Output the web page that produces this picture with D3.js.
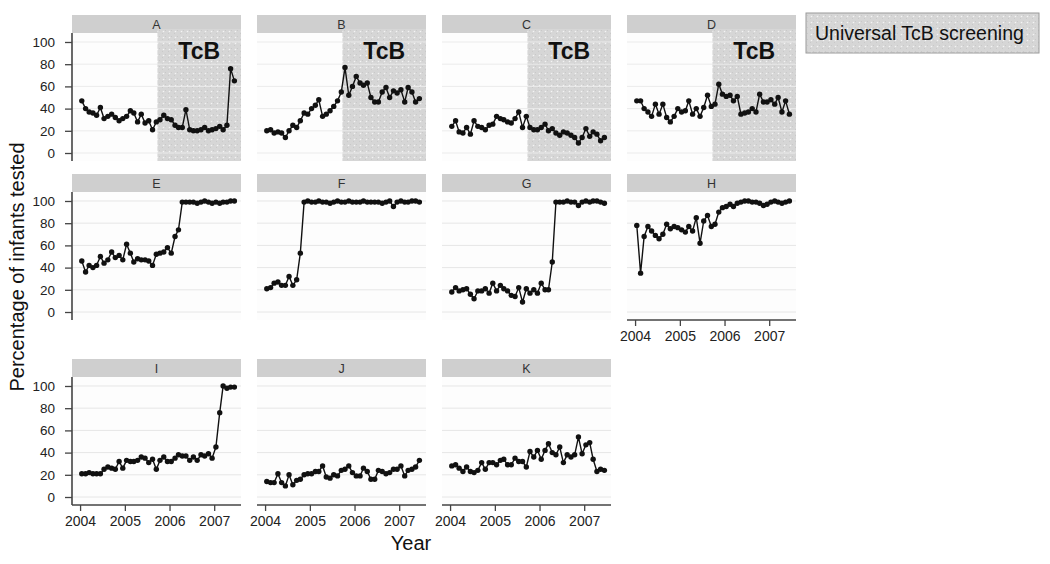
<!DOCTYPE html>
<html><head><meta charset="utf-8">
<script src="https://cdn.jsdelivr.net/npm/d3@7"></script>
<style>
body{margin:0;background:#fff;}
svg{display:block;font-family:"Liberation Sans",Arial,sans-serif;}
</style>
</head><body>
<svg id="chart" width="1050" height="564"></svg>
<script>
// ---------------- data ----------------
const months = ["2004-01","2004-02","2004-03","2004-04","2004-05","2004-06","2004-07","2004-08","2004-09","2004-10","2004-11","2004-12",
"2005-01","2005-02","2005-03","2005-04","2005-05","2005-06","2005-07","2005-08","2005-09","2005-10","2005-11","2005-12",
"2006-01","2006-02","2006-03","2006-04","2006-05","2006-06","2006-07","2006-08","2006-09","2006-10","2006-11","2006-12",
"2007-01","2007-02","2007-03","2007-04","2007-05","2007-06"];
const panelLabels = ["A","B","C","D","E","F","G","H","I","J","K"];
const seriesA = [47,40,37,36,34,41,31,33,35,32,29,31,33,38,36,28,35,27,29,21,28,30,34,31,30,25,23,23,39,21,20,20,21,23,20,21,22,24,21,25,76,65];
const seriesB = [20,21,18,19,18,14,20,25,23,29,36,35,40,43,48,33,35,38,42,47,55,77,52,60,69,63,61,63,50,46,46,55,59,50,56,54,57,46,59,55,46,49];
const seriesC = [24,29,19,18,23,17,29,24,23,21,25,26,33,31,30,28,27,31,37,23,33,23,21,21,23,26,20,22,18,16,19,18,16,14,9,14,22,15,19,17,11,14];
const seriesD = [47,47,40,37,33,44,35,44,32,28,33,40,37,38,47,35,40,33,41,52,42,44,62,53,51,52,47,51,35,36,37,40,37,53,46,46,48,44,50,37,47,35];
const seriesE = [46,36,42,40,42,50,44,47,54,49,51,47,61,53,45,48,47,47,46,42,52,53,54,58,53,68,74,99,99,99,99,98,99,100,99,98,99,98,99,99,100,100];
const seriesF = [21,22,26,27,24,24,32,24,29,53,99,100,99,99,100,99,99,98,99,100,99,99,100,99,99,99,100,99,99,99,99,98,99,100,95,99,100,99,99,100,100,99];
const seriesG = [18,22,19,20,21,16,12,19,19,21,17,26,19,24,21,19,15,14,22,9,21,17,20,17,26,20,20,45,99,99,99,100,99,99,96,99,100,99,100,100,99,98];
const seriesH = [78,35,68,77,73,69,66,70,79,75,77,76,74,72,77,73,85,62,82,87,77,79,90,94,95,97,95,98,99,100,100,99,99,98,96,97,99,100,99,98,99,100];
const seriesI = [21,21,22,21,21,21,25,27,26,25,32,26,33,32,32,33,36,35,31,34,25,33,36,32,32,35,38,37,37,33,36,33,38,37,39,35,45,76,100,98,99,99];
const seriesJ = [14,13,13,21,13,10,20,11,15,16,20,21,21,23,23,28,18,17,20,19,24,25,28,22,19,19,26,23,16,16,24,23,21,22,25,25,28,19,24,25,27,33];
const seriesK = [28,29,26,23,27,23,22,24,31,25,31,31,29,33,34,29,29,35,32,32,27,41,36,42,34,42,48,40,38,45,31,38,36,38,54,39,47,49,34,23,25,24];
const allSeries = [seriesA,seriesB,seriesC,seriesD,seriesE,seriesF,seriesG,seriesH,seriesI,seriesJ,seriesK];
const yTicks = [0,20,40,60,80,100];
const xTickLabels = ["2004","2005","2006","2007"];
const tcbPanels = ["A","B","C","D"];
const tcbStart = "2005-09-24";
const tcbLabel = "TcB";
const legendLabel = "Universal TcB screening";
const yTitle = "Percentage of infants tested";
const xTitle = "Year";
const xAxisPanels = ["H","I","J","K"];

// ---------------- layout ----------------
const ncol = 4;
const colLeft0 = 72, colStep = 185, panelW = 169;
const rowTops = [15, 174, 359];
const stripH = 18, plotH = 128;

const svg = d3.select("#chart");
const defs = svg.append("defs");
const pat = defs.append("pattern").attr("id","dots").attr("patternUnits","userSpaceOnUse")
  .attr("width",6).attr("height",6);
pat.append("rect").attr("width",6).attr("height",6).attr("fill","#d6d6d6");
pat.append("rect").attr("x",0).attr("y",0).attr("width",1).attr("height",1).attr("fill","#c9c9c9");
pat.append("rect").attr("x",3).attr("y",3).attr("width",1).attr("height",1).attr("fill","#c9c9c9");
pat.append("circle").attr("cx",1.5).attr("cy",4.5).attr("r",0.8).attr("fill","#f4f4f4");

const parseM = d3.timeParse("%Y-%m");
const parseD = d3.timeParse("%Y-%m-%d");
const dates = months.map(m => d3.timeDay.offset(parseM(m), 14));

const x = d3.scaleTime()
  .domain([parseD("2003-10-27"), parseD("2007-08-08")])
  .range([0, panelW]);
const y = d3.scaleLinear().domain([-7.2, 108.1]).range([plotH, 0]);

const line = d3.line().x((d,i)=>x(dates[i])).y(d=>y(d));

panelLabels.forEach((lab, k) => {
  const r = Math.floor(k / ncol), c = k % ncol;
  const gx = colLeft0 + c*colStep, gy = rowTops[r];
  const g = svg.append("g").attr("transform", `translate(${gx},${gy})`);
  // strip
  g.append("rect").attr("x",0).attr("y",0).attr("width",panelW).attr("height",stripH).attr("fill","#cfcfcf");
  g.append("text").attr("x",panelW/2).attr("y",stripH/2+4.5).attr("text-anchor","middle")
    .attr("font-size",12.5).attr("fill","#333").text(lab);
  const p = g.append("g").attr("transform",`translate(0,${stripH})`);
  p.append("rect").attr("width",panelW).attr("height",plotH).attr("fill","#fdfdfd");
  const isTcb = tcbPanels.includes(lab);
  if (isTcb) {
    const xs = x(parseD(tcbStart));
    p.append("rect").attr("x",xs).attr("y",-4).attr("width",panelW-xs).attr("height",plotH+4)
      .attr("fill","url(#dots)");
  }
  // grid
  p.selectAll("line.grid").data(yTicks).join("line").attr("class","grid")
    .attr("x1",0).attr("x2",panelW).attr("y1",d=>y(d)).attr("y2",d=>y(d))
    .attr("stroke", isTcb ? "#ebebeb" : "#e6e6e6").attr("stroke-width",1);
  if (isTcb) {
    const xs = x(parseD(tcbStart));
    p.append("text").attr("x",(xs+panelW)/2).attr("y",26).attr("text-anchor","middle")
      .attr("font-size",23).attr("font-weight","bold").attr("fill","#111").text(tcbLabel);
  }
  const vals = allSeries[k];
  p.append("path").datum(vals).attr("d",line).attr("fill","none").attr("stroke","#111").attr("stroke-width",1.4);
  p.selectAll("circle.pt").data(vals).join("circle").attr("class","pt")
    .attr("cx",(d,i)=>x(dates[i])).attr("cy",d=>y(d)).attr("r",2.7).attr("fill","#111");

  if (c === 0) {
    const ya = p.append("g").call(d3.axisLeft(y).tickValues(yTicks).tickSize(7).tickPadding(10).tickFormat(d3.format("d")));
    ya.select(".domain").attr("stroke","#444").attr("stroke-width",1.6).attr("d",`M0,0V${plotH}`);
    ya.selectAll(".tick line").attr("stroke","#444").attr("stroke-width",1.3);
    ya.selectAll(".tick text").attr("font-size",13.5).attr("fill","#222").attr("font-family","Liberation Sans, Arial, sans-serif");
  }
  if (xAxisPanels.includes(lab)) {
    const xa = p.append("g").attr("transform",`translate(0,${plotH})`)
      .call(d3.axisBottom(x).tickValues(xTickLabels.map(t=>parseD(t+"-01-01"))).tickSize(6).tickPadding(5)
        .tickFormat((d,i)=>xTickLabels[i]));
    xa.select(".domain").attr("stroke","#444").attr("stroke-width",1.6).attr("d",`M0,0H${panelW}`);
    xa.selectAll(".tick line").attr("stroke","#444").attr("stroke-width",1.3);
    xa.selectAll(".tick text").attr("font-size",14).attr("fill","#222").attr("font-family","Liberation Sans, Arial, sans-serif");
  }
});

// legend
svg.append("rect").attr("x",806).attr("y",13).attr("width",233).attr("height",40)
  .attr("fill","url(#dots)").attr("stroke","#9a9a9a").attr("stroke-width",1);
svg.append("text").attr("x",815).attr("y",40).attr("font-size",19.5).attr("fill","#111").text(legendLabel);

// axis titles
svg.append("text").attr("transform","translate(24,267) rotate(-90)").attr("text-anchor","middle")
  .attr("font-size",20).attr("fill","#111").text(yTitle);
svg.append("text").attr("x",411).attr("y",550).attr("text-anchor","middle")
  .attr("font-size",20).attr("fill","#111").text(xTitle);
</script>
</body></html>
